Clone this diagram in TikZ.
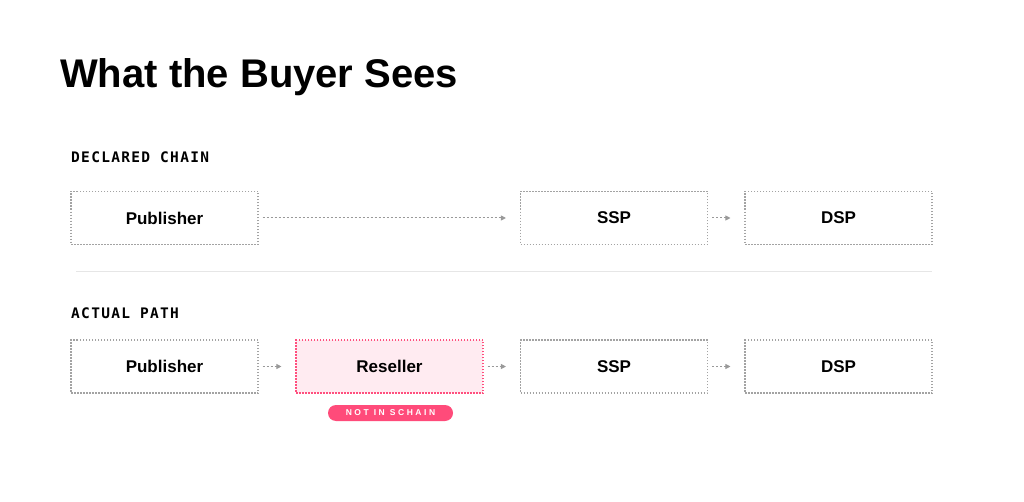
\documentclass[tikz,border=0pt]{standalone}
\usepackage{fontspec}
\setmainfont{Liberation Sans}
\newfontfamily\titlefont{Liberation Sans}
\newfontfamily\monolabel[LetterSpace=9]{DejaVu Sans Mono}
\newfontfamily\badgefont[LetterSpace=30]{Liberation Sans}
\usetikzlibrary{arrows.meta}
\definecolor{boxline}{HTML}{A3A3A3}
\definecolor{arrgray}{HTML}{999999}
\definecolor{pinkfill}{HTML}{FFEBF1}
\definecolor{pinkline}{HTML}{FF4F7E}
\definecolor{badgepink}{HTML}{FF4B7A}
\definecolor{sepline}{HTML}{E6E6E6}
\begin{document}
\begin{tikzpicture}[x=1pt,y=-1pt,
  stepbox/.style={draw=boxline,line width=1.1pt,dash pattern=on 1.5pt off 1.5pt,
    minimum width=187pt,minimum height=53pt,inner sep=0pt,
    font=\fontsize{17}{20}\selectfont\bfseries},
  hotbox/.style={stepbox,draw=pinkline,fill=pinkfill},
  flow/.style={draw=arrgray,line width=1pt,dash pattern=on 2pt off 2pt,
    -{Triangle[length=5pt,width=5pt]},shorten <=4pt,shorten >=14pt},
  seclabel/.style={anchor=base west,inner sep=0pt,font=\fontsize{14.5}{16}\monolabel\bfseries},
  pill/.style={fill=badgepink,rounded corners=8pt,minimum width=125pt,minimum height=16pt,
    inner sep=0pt,text=white,font=\fontsize{8.5}{10}\badgefont\bfseries}
]
\path[fill=white,use as bounding box] (0,0) rectangle (1024,502);

\node[anchor=base west,inner sep=0pt,font=\fontsize{40}{46}\titlefont\bfseries] (title) at (60,88) {What the Buyer Sees};

\node[seclabel] (declared) at (71,163) {DECLARED CHAIN};
\node[stepbox] (pubA) at (164.5,218) {Publisher};
\node[stepbox] (sspA) at (614,218) {SSP};
\node[stepbox] (dspA) at (838.5,218) {DSP};
\draw[flow] (pubA) -- (sspA);
\draw[flow] (sspA) -- (dspA);

\coordinate (sepL) at (76,272);
\coordinate (sepR) at (932,272);
\draw[sepline,line width=1pt] (sepL) -- (sepR);

\node[seclabel] (actual) at (71,318) {ACTUAL PATH};
\node[stepbox] (pubB) at (164.5,366.5) {Publisher};
\node[hotbox] (res) at (389.5,366.5) {Reseller};
\node[stepbox] (sspB) at (614,366.5) {SSP};
\node[stepbox] (dspB) at (838.5,366.5) {DSP};
\draw[flow] (pubB) -- (res);
\draw[flow] (res) -- (sspB);
\draw[flow] (sspB) -- (dspB);

\node[pill] (badge) at (390.5,413) {NOT\hspace{5pt}IN\hspace{5pt}SCHAIN};
\end{tikzpicture}
\end{document}
